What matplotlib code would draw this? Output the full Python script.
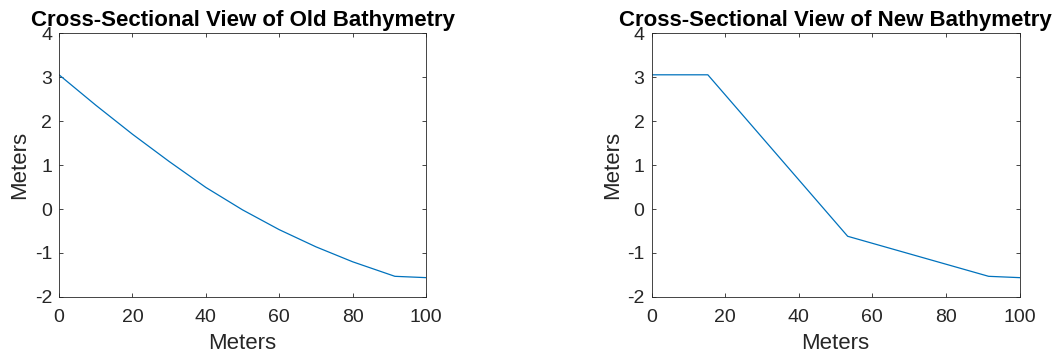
import matplotlib
matplotlib.use('Agg')
import matplotlib.pyplot as plt

# old profile, read every 10 m along the section
old_x = [0, 10, 20, 30, 40, 50, 60, 70, 80, 91.5, 100]
old_z = [3.05, 2.36, 1.70, 1.08, 0.49, -0.02, -0.47, -0.86, -1.20, -1.53, -1.56]

# new profile: flat crest, steep face, gentler toe
new_x = [0, 15.3, 53.3, 91.6, 100]
new_z = [3.05, 3.05, -0.62, -1.53, -1.56]

xticks = [0, 20, 40, 60, 80, 100]
yticks = [-2, -1, 0, 1, 2, 3, 4]

plt.rcParams['font.family'] = ['Liberation Sans', 'DejaVu Sans']
plt.rcParams['axes.unicode_minus'] = False
axcol = '#262626'
linecol = '#0072BD'

fig = plt.figure(figsize=(10.62, 3.58), dpi=100)
ax1 = fig.add_axes([0.0556, 0.1704, 0.3456, 0.7374])
ax2 = fig.add_axes([0.6135, 0.1704, 0.3465, 0.7374])

for ax, x, z, title in [(ax1, old_x, old_z, 'Cross-Sectional View of Old Bathymetry'),
                        (ax2, new_x, new_z, 'Cross-Sectional View of New Bathymetry')]:
    ax.plot(x, z, color=linecol, lw=0.9)
    ax.set_xlim(0, 100)
    ax.set_ylim(-2, 4)
    ax.set_xticks(xticks)
    ax.set_yticks(yticks)
    ax.tick_params(direction='in', top=True, right=True, length=3, width=0.6,
                   colors=axcol, labelsize=14)
    ax.tick_params(axis='x', pad=9)
    ax.tick_params(axis='y', pad=5)
    for s in ax.spines.values():
        s.set_color(axcol)
        s.set_linewidth(0.6)
    ax.set_xlabel('Meters', fontsize=16, color=axcol, labelpad=4.5)
    ax.set_ylabel('Meters', fontsize=16, color=axcol, labelpad=3)
    ax.set_title(title, fontsize=16, fontweight='bold', color='black', pad=5)

fig.savefig('out.png', dpi=100)
